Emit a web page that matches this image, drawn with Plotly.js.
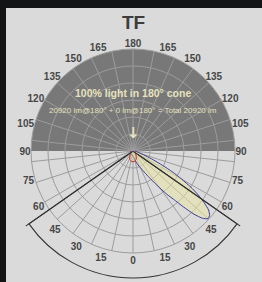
<!DOCTYPE html>
<html><head><meta charset="utf-8">
<script src="https://cdn.plot.ly/plotly-3.0.1.min.js"></script>
<style>html,body{margin:0;padding:0;background:#121416;}#chart{width:262px;height:282px;}</style>
</head><body><div id="chart"></div>
<script>
// ---- text ----
const chartTitle = 'TF';
const coneText = '100% light in 180° cone';
const fluxText = '20920 lm@180° + 0 lm@180° = Total 20920 lm';
const arrowText = '↓';

// ---- angular tick labels (0 at nadir, counterclockwise = right side) ----
const angleTicks = [0,15,30,45,60,75,90,105,120,135,150,165,180,195,210,225,240,255,270,285,300,315,330,345];
const angleTickText = ['0','15','30','45','60','75','90','105','120','135','150','165','180','165','150','135','120','105','90','75','60','45','30','15'];

// ---- grid ----
const gridAngleStep = 12;
const ringValues = [100,200,300,400,500,600];
const radialMax = 600;

// ---- upper hemisphere (180° cone) ----
const upperTheta = [180];
const upperWidth = [180];
const upperR = [600];

// ---- C0-C180 plane (blue) ----
const blueTheta = [-90,-60,-30,0,10,15,20,27,31,35,38,40,42,44,46,48,50,52,54,56,58,60,62,64,67,70,79,90];
const blueR     = [12,18,20,30,47,65,88,130,175,247,323,370,441,517,570,594,588,564,517,464,400,329,265,194,118,65,24,12];

// ---- C90-C270 plane (red) ----
const redTheta = [-90,-60,-45,-30,-20,-10,0,10,20,30,45,60,90];
const redR     = [6,12,21,38,53,61,63,61,53,38,21,12,6];

// ---- cutoff lines and arc ----
const cutoffAngle = 55;
const cutoffTheta = [-cutoffAngle,-cutoffAngle,null,cutoffAngle,cutoffAngle];
const cutoffR = [0,131,null,0,131];
const arcTheta = [0];
const arcWidth = [2*cutoffAngle];
const arcR = [127];

const W = 262, H = 282;
const cx = 133, cy = 151, R = 102, R3 = 131;
const grid = '#9c9c9c';

const traces = [
  {type:'barpolar', subplot:'polar', theta:upperTheta, width:upperWidth, r:upperR,
   marker:{color:'#787878', line:{width:0}}, hoverinfo:'skip'},
  {type:'scatterpolar', subplot:'polar2', mode:'lines', theta:blueTheta, r:blueR,
   fill:'toself', fillcolor:'rgba(236,232,160,0.5)', line:{color:'#3c3c9e', width:1, shape:'spline', smoothing:0.6}, hoverinfo:'skip'},
  {type:'scatterpolar', subplot:'polar2', mode:'lines', theta:redTheta, r:redR,
   fill:'toself', fillcolor:'rgba(236,232,160,0.4)', line:{color:'#c8282a', width:1, shape:'spline', smoothing:0.6}, hoverinfo:'skip'},
  {type:'barpolar', subplot:'polar3', theta:arcTheta, width:arcWidth, r:arcR,
   marker:{color:'rgba(0,0,0,0)', line:{color:'#333', width:1.1}}, hoverinfo:'skip'},
  {type:'scatterpolar', subplot:'polar3', mode:'lines', theta:cutoffTheta, r:cutoffR,
   line:{color:'#333', width:1.1}, hoverinfo:'skip'}
];

const dom = {x:[(cx-R)/W,(cx+R)/W], y:[(H-cy-R)/H,(H-cy+R)/H]};
const fam = 'Liberation Sans, Arial, sans-serif';
const lblFont = {family:fam, size:10, color:'#474747', weight:'bold'};
function note(text, ypx, font){
  return {text:text, xref:'paper', yref:'paper', x:cx/W, y:(H-ypx)/H,
          xanchor:'center', yanchor:'middle', showarrow:false, font:font};
}

const layout = {
  width:W, height:H, margin:{l:0,r:0,t:0,b:0},
  paper_bgcolor:'#121416', showlegend:false,
  shapes:[{type:'rect', xref:'paper', yref:'paper', x0:6/W, x1:1, y0:0, y1:(H-8)/H,
           fillcolor:'#dadada', line:{width:0}, layer:'below'}],
  polar:{domain:dom, bgcolor:'rgba(0,0,0,0)',
    angularaxis:{rotation:-90, direction:'counterclockwise', tickmode:'array',
      tickvals:angleTicks, ticktext:angleTickText, showgrid:false, showline:false,
      ticks:'', tickfont:lblFont},
    radialaxis:{visible:false, range:[0,radialMax]}},
  polar2:{domain:dom, bgcolor:'rgba(0,0,0,0)',
    angularaxis:{rotation:-90, direction:'counterclockwise', tickmode:'linear', tick0:0, dtick:gridAngleStep,
      showticklabels:false, ticks:'', gridcolor:grid, gridwidth:1, showline:true, linecolor:grid, linewidth:1},
    radialaxis:{range:[0,radialMax], tickmode:'array', tickvals:ringValues, showticklabels:false,
      ticks:'', showline:false, gridcolor:grid, gridwidth:1}},
  polar3:{domain:{x:[(cx-0.8660254*R3)/W,(cx+0.8660254*R3)/W], y:[(H-cy-R3)/H,(H-cy)/H]},
    sector:[210,330], bgcolor:'rgba(0,0,0,0)',
    angularaxis:{visible:false, rotation:-90, direction:'counterclockwise'},
    radialaxis:{visible:false, range:[0,R3]}},
  annotations:[
    note(chartTitle, 22, {family:fam, size:19, color:'#3d3d3d', weight:'bold'}),
    note(coneText, 93, {family:fam, size:10.5, color:'#e6e2bf', weight:'bold'}),
    note(fluxText, 110, {family:fam, size:8, color:'#e6e2bf'}),
    note(arrowText, 133, {family:'DejaVu Sans, sans-serif', size:15, color:'#e6e2bf', weight:'bold'})
  ]
};

Plotly.newPlot('chart', traces, layout, {staticPlot:true, displayModeBar:false});
</script></body></html>
